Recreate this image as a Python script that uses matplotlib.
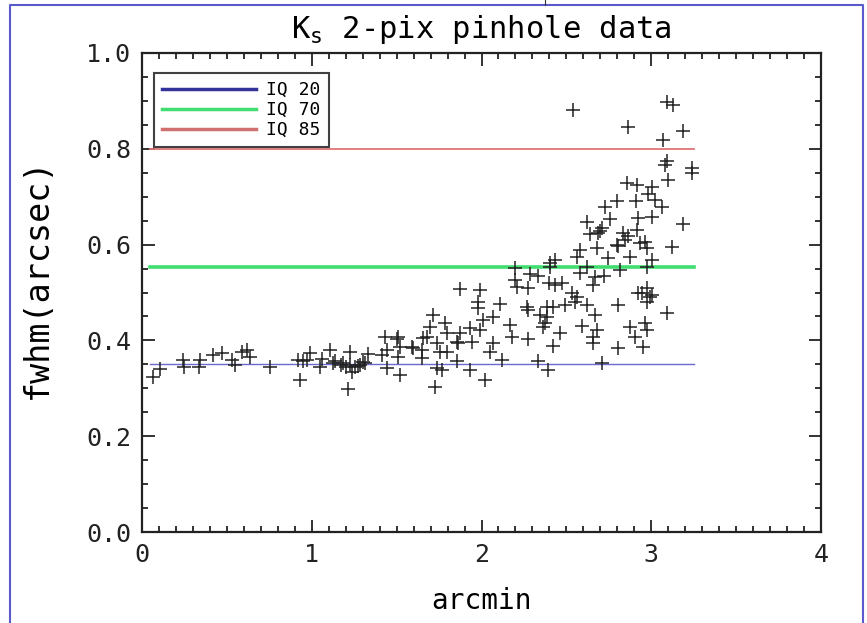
import matplotlib
matplotlib.use("Agg")
import matplotlib.pyplot as plt
from matplotlib.lines import Line2D
from matplotlib.ticker import MultipleLocator

plt.rcParams['font.family'] = ['DejaVu Sans Mono']
plt.rcParams['mathtext.fontset'] = 'custom'
plt.rcParams['mathtext.rm'] = 'DejaVu Sans Mono'
plt.rcParams['mathtext.it'] = 'DejaVu Sans Mono'

# ---- data ----
arcmin = [0.067, 0.106, 0.240, 0.249, 0.342, 0.338, 0.416, 0.470, 0.528, 0.548,
          0.587, 0.617, 0.636, 0.754, 0.921, 0.931, 0.950, 0.990, 0.970,
          1.059, 1.108, 1.137, 1.049, 1.186, 1.225, 1.215, 1.225, 1.255, 1.284,
          1.314, 1.235, 1.333, 1.127, 1.412, 1.432, 1.442, 1.442, 1.500, 1.510,
          1.520, 1.520, 1.589, 1.648, 1.648, 1.677, 1.716, 1.697, 1.736, 1.755,
          1.736, 1.766, 1.726, 1.785, 1.795, 1.863, 1.873, 1.854, 1.873, 1.932,
          1.942, 1.932, 1.981, 1.991, 1.981, 2.021, 2.011, 1.991, 1.854, 1.795,
          1.657, 1.598, 1.510, 1.170, 1.200, 1.270, 1.300,
          2.050, 2.070, 2.070, 2.109, 2.119, 2.168, 2.178, 2.197, 2.197, 2.207,
          2.266, 2.276, 2.276, 2.286, 2.335, 2.276, 2.335, 2.345, 2.384, 2.394,
          2.374, 2.364, 2.384, 2.399, 2.404, 2.404, 2.423, 2.423, 2.433, 2.433,
          2.462, 2.472, 2.492, 2.531, 2.541, 2.551, 2.561, 2.561, 2.580, 2.580,
          2.590,
          2.620, 2.620, 2.620, 2.659, 2.659, 2.659, 2.669, 2.669, 2.679, 2.679,
          2.688, 2.708, 2.708, 2.721, 2.728, 2.747, 2.757, 2.796, 2.796, 2.806,
          2.806, 2.806, 2.816, 2.835, 2.845, 2.855, 2.865, 2.865, 2.875, 2.875,
          2.904, 2.910, 2.914, 2.914, 2.924, 2.924, 2.934, 2.944, 2.953, 2.963,
          2.963, 2.973, 2.973, 2.973, 2.973, 2.973, 2.983, 2.993, 3.003, 3.003,
          3.003, 3.003, 3.022, 3.062, 3.071, 3.081, 3.091, 3.091, 3.091, 3.100,
          3.120, 3.130, 3.185, 3.185, 3.238, 3.238, 2.700, 2.640]
fwhm = [0.324, 0.340, 0.359, 0.344, 0.359, 0.344, 0.370, 0.374, 0.359, 0.349,
        0.376, 0.380, 0.366, 0.345, 0.359, 0.317, 0.356, 0.374, 0.359,
        0.361, 0.380, 0.356, 0.345, 0.352, 0.376, 0.298, 0.349, 0.345, 0.349,
        0.352, 0.335, 0.372, 0.352, 0.370, 0.408, 0.380, 0.342, 0.402, 0.366,
        0.387, 0.328, 0.387, 0.380, 0.363, 0.408, 0.453, 0.429, 0.394, 0.376,
        0.342, 0.338, 0.302, 0.436, 0.415, 0.394, 0.415, 0.356, 0.507, 0.425,
        0.397, 0.338, 0.467, 0.505, 0.481, 0.317, 0.443, 0.422, 0.397, 0.376,
        0.404, 0.384, 0.408, 0.348, 0.344, 0.347, 0.355,
        0.376, 0.394, 0.449, 0.477, 0.359, 0.432, 0.408, 0.552, 0.526, 0.512,
        0.470, 0.463, 0.509, 0.539, 0.534, 0.402, 0.358, 0.453, 0.449, 0.338,
        0.437, 0.429, 0.470, 0.520, 0.562, 0.554, 0.470, 0.388, 0.568, 0.516,
        0.416, 0.519, 0.474, 0.498, 0.880, 0.481, 0.491, 0.575, 0.589, 0.541,
        0.430,
        0.648, 0.554, 0.474, 0.516, 0.408, 0.394, 0.533, 0.453, 0.592, 0.422,
        0.624, 0.634, 0.352, 0.534, 0.679, 0.573, 0.653, 0.690, 0.599, 0.597,
        0.474, 0.384, 0.547, 0.624, 0.610, 0.729, 0.845, 0.617, 0.575, 0.429,
        0.408, 0.692, 0.724, 0.630, 0.655, 0.500, 0.603, 0.498, 0.387, 0.606,
        0.436, 0.592, 0.554, 0.509, 0.481, 0.422, 0.706, 0.491, 0.721, 0.658,
        0.568, 0.495, 0.693, 0.679, 0.818, 0.766, 0.775, 0.898, 0.457, 0.735,
        0.596, 0.891, 0.838, 0.644, 0.759, 0.749, 0.628, 0.622]

iq_labels = ['IQ 20', 'IQ 70', 'IQ 85']
iq_values = [0.35, 0.553, 0.80]
iq_xrange = [0.05, 3.25]

# ---- figure ----
fig = plt.figure(figsize=(8.67, 6.23), dpi=100)
ax = fig.add_axes([142/867, 1-532/623, (821-142)/867, (532-53)/623])

line_colors = ['#6a6ad0', '#40dd70', '#e07575']
line_widths = [1.0, 2.6, 1.3]
for v, c, w in zip(iq_values, line_colors, line_widths):
    ax.plot(iq_xrange, [v, v], color=c, lw=w, zorder=2)

ax.plot(arcmin, fwhm, linestyle='none', marker='+', markersize=10,
        markeredgewidth=1.1, color='#222222', zorder=3)

ax.set_xlim(0, 4)
ax.set_ylim(0, 1.0)
ax.xaxis.set_major_locator(MultipleLocator(1))
ax.xaxis.set_minor_locator(MultipleLocator(0.1))
ax.yaxis.set_major_locator(MultipleLocator(0.2))
ax.yaxis.set_minor_locator(MultipleLocator(0.05))
ax.yaxis.set_major_formatter(matplotlib.ticker.FormatStrFormatter('%.1f'))
ax.tick_params(which='both', direction='in', top=True, right=True, width=1.3,
               colors='#222222')
ax.tick_params(which='major', length=9, labelsize=18, pad=8)
ax.tick_params(which='minor', length=4.5)
for s in ax.spines.values():
    s.set_linewidth(1.6)
    s.set_color('#222222')

ax.set_xlabel('arcmin', fontsize=20, labelpad=14)
ax.set_ylabel('fwhm(arcsec)', fontsize=24)
ax.yaxis.set_label_coords(-0.13, 0.53)
ax.set_title(r'K$_{\mathrm{s}}$ 2-pix pinhole data', fontsize=22, pad=11)

handles = [Line2D([], [], color=c, lw=2.5) for c in ['#333399', '#40dd70', '#d07070']]
leg = ax.legend(handles, iq_labels, loc='upper left', bbox_to_anchor=(0.018, 0.958),
                fontsize=13, frameon=True, fancybox=False, handlelength=5.2,
                borderpad=0.45, labelspacing=0.1, handletextpad=0.55,
                borderaxespad=0)
leg.get_frame().set_edgecolor('#111111')
leg.get_frame().set_linewidth(1.5)

# outer image border
fig.add_artist(Line2D([10/867, 10/867, 863/867, 863/867], [0, 1-5/623, 1-5/623, 0],
                      transform=fig.transFigure, color='#5a5acc', lw=1.5))
fig.add_artist(Line2D([545/867, 545/867], [1, 1-5/623], transform=fig.transFigure,
                      color='#333333', lw=0.8))

fig.savefig('out.png', dpi=100)
